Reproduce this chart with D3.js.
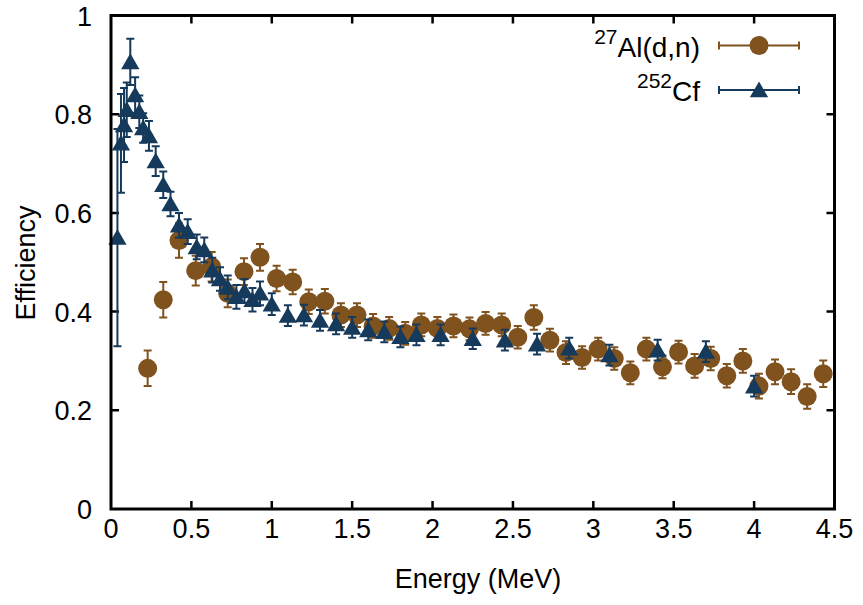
<!DOCTYPE html>
<html>
<head>
<meta charset="utf-8">
<script src="https://d3js.org/d3.v7.min.js"></script>
<style>
  body { margin: 0; background: #fff; }
  text { font-family: "Liberation Sans", Arial, sans-serif; fill: #000; }
</style>
</head>
<body>
<div id="chart"></div>
<script>
// 27Al(d,n) series
var alEnergy = [0.228, 0.325, 0.423, 0.527, 0.626, 0.726, 0.827, 0.927, 1.03, 1.13, 1.23, 1.33, 1.43, 1.53, 1.63, 1.73, 1.83, 1.93, 2.03, 2.13, 2.23, 2.33, 2.43, 2.53, 2.63, 2.73, 2.83, 2.93, 3.03, 3.13, 3.23, 3.33, 3.43, 3.53, 3.63, 3.73, 3.83, 3.93, 4.03, 4.13, 4.23, 4.33, 4.43]
var alEff = [0.285, 0.424, 0.544, 0.483, 0.491, 0.437, 0.481, 0.51, 0.467, 0.46, 0.42, 0.421, 0.393, 0.393, 0.371, 0.366, 0.356, 0.373, 0.366, 0.371, 0.365, 0.376, 0.373, 0.348, 0.388, 0.342, 0.317, 0.307, 0.324, 0.305, 0.276, 0.324, 0.288, 0.318, 0.29, 0.305, 0.27, 0.3, 0.249, 0.278, 0.258, 0.228, 0.274]
var alErr = [0.036, 0.036, 0.035, 0.03, 0.03, 0.028, 0.027, 0.027, 0.026, 0.025, 0.025, 0.025, 0.024, 0.024, 0.024, 0.023, 0.023, 0.023, 0.023, 0.023, 0.023, 0.023, 0.023, 0.023, 0.025, 0.023, 0.023, 0.023, 0.023, 0.023, 0.023, 0.023, 0.023, 0.023, 0.024, 0.024, 0.024, 0.024, 0.025, 0.025, 0.025, 0.025, 0.027]

// 252Cf series
var cfEnergy = [0.04, 0.062, 0.081, 0.098, 0.12, 0.15, 0.176, 0.2, 0.236, 0.278, 0.325, 0.37, 0.423, 0.477, 0.533, 0.58, 0.63, 0.678, 0.726, 0.78, 0.83, 0.88, 0.927, 1.0, 1.1, 1.2, 1.3, 1.4, 1.5, 1.6, 1.7, 1.8, 1.9, 2.05, 2.25, 2.45, 2.65, 2.85, 3.1, 3.4, 3.7, 4.0]
var cfEff = [0.55, 0.741, 0.778, 0.809, 0.906, 0.839, 0.805, 0.772, 0.756, 0.705, 0.657, 0.618, 0.575, 0.562, 0.531, 0.525, 0.484, 0.466, 0.449, 0.43, 0.442, 0.424, 0.437, 0.415, 0.392, 0.393, 0.382, 0.375, 0.368, 0.363, 0.359, 0.349, 0.353, 0.353, 0.345, 0.342, 0.334, 0.326, 0.312, 0.322, 0.319, 0.249]
var cfErr = [0.22, 0.1, 0.075, 0.055, 0.047, 0.036, 0.033, 0.03, 0.03, 0.03, 0.027, 0.025, 0.025, 0.025, 0.025, 0.025, 0.025, 0.024, 0.024, 0.024, 0.024, 0.024, 0.024, 0.022, 0.021, 0.021, 0.021, 0.021, 0.021, 0.021, 0.021, 0.021, 0.021, 0.021, 0.021, 0.021, 0.021, 0.021, 0.021, 0.021, 0.021, 0.021]

var xTicks = [0, 0.5, 1, 1.5, 2, 2.5, 3, 3.5, 4, 4.5]
var yTicks = [0, 0.2, 0.4, 0.6, 0.8, 1]

var width = 863, height = 605
var pLeft = 111, pRight = 834.5, pTop = 15.5, pBottom = 509

var brown = "#7f521e", blue = "#163a5c"

var svg = d3.select("#chart").append("svg")
    .attr("width", width)
    .attr("height", height)

var x = d3.scaleLinear().domain([0, 4.5]).range([pLeft, pRight])
var y = d3.scaleLinear().domain([0, 1]).range([pBottom, pTop])

// mirrored inward ticks
var g = svg.append("g")
g.selectAll(".xt").data(xTicks.slice(1, -1)).enter().append("path")
    .attr("d", function(d){ return "M" + x(d) + "," + pBottom + "v-8M" + x(d) + "," + pTop + "v8" })
    .attr("stroke", "#000").attr("stroke-width", 2.5)
g.selectAll(".yt").data(yTicks.slice(1, -1)).enter().append("path")
    .attr("d", function(d){ return "M" + pLeft + "," + y(d) + "h8M" + pRight + "," + y(d) + "h-8" })
    .attr("stroke", "#000").attr("stroke-width", 2.5)

g.selectAll(".xl").data(xTicks).enter().append("text")
    .attr("x", function(d){ return x(d) })
    .attr("y", pBottom + 29)
    .attr("text-anchor", "middle")
    .style("font-size", "27px")
    .text(function(d){ return d })
g.selectAll(".yl").data(yTicks).enter().append("text")
    .attr("x", 92)
    .attr("y", function(d){ return y(d) + 10 })
    .attr("text-anchor", "end")
    .style("font-size", "27px")
    .text(function(d){ return d })

svg.append("text")
    .attr("x", 478)
    .attr("y", 588)
    .attr("text-anchor", "middle")
    .style("font-size", "27px")
    .text("Energy (MeV)")
svg.append("text")
    .attr("transform", "translate(35,263) rotate(-90)")
    .attr("text-anchor", "middle")
    .style("font-size", "27px")
    .text("Efficiency")

function errorBars(xs, ys, es, color) {
    var data = d3.range(xs.length)
    svg.append("g").selectAll("path").data(data).enter().append("path")
        .attr("d", function(i){
            var px = x(xs[i]), y0 = y(ys[i] - es[i]), y1 = y(ys[i] + es[i])
            return "M" + px + "," + y0 + "V" + y1 +
                "M" + (px - 4) + "," + y0 + "h8M" + (px - 4) + "," + y1 + "h8"
        })
        .attr("fill", "none")
        .attr("stroke", color)
        .attr("stroke-width", 2)
}

var circle = d3.symbol().type(d3.symbolCircle).size(Math.PI * 9.5 * 9.5)
var tri = d3.symbol().type(d3.symbolTriangle).size(145)

// Al points
errorBars(alEnergy, alEff, alErr, brown)
svg.append("g").selectAll("path").data(d3.range(alEnergy.length)).enter().append("path")
    .attr("transform", function(i){ return "translate(" + x(alEnergy[i]) + "," + y(alEff[i]) + ")" })
    .attr("d", circle)
    .attr("fill", brown)

// Cf points
errorBars(cfEnergy, cfEff, cfErr, blue)
svg.append("g").selectAll("path").data(d3.range(cfEnergy.length)).enter().append("path")
    .attr("transform", function(i){ return "translate(" + x(cfEnergy[i]) + "," + (y(cfEff[i]) + 2) + ")" })
    .attr("d", tri)
    .attr("fill", blue)

// frame
svg.append("rect")
    .attr("x", pLeft).attr("y", pTop)
    .attr("width", pRight - pLeft).attr("height", pBottom - pTop)
    .attr("fill", "none").attr("stroke", "#000").attr("stroke-width", 3)

// legend
var legend = [
    {sup: "27", name: "Al(d,n)", color: brown, sym: circle, y: 45.5},
    {sup: "252", name: "Cf", color: blue, sym: tri, y: 90}
]
var lg = svg.append("g").selectAll("g").data(legend).enter().append("g")
lg.append("text")
    .attr("x", 700)
    .attr("y", function(d){ return d.y + 11 })
    .attr("text-anchor", "end")
    .style("font-size", "28px")
    .each(function(d){
        var t = d3.select(this)
        t.append("tspan").attr("dy", -13).style("font-size", "21px").text(d.sup)
        t.append("tspan").attr("dy", 13).text(d.name)
    })
lg.append("path")
    .attr("d", function(d){ return "M719," + d.y + "H799M719," + (d.y - 4) + "v8M799," + (d.y - 4) + "v8" })
    .attr("stroke", function(d){ return d.color })
    .attr("stroke-width", 2)
    .attr("fill", "none")
lg.append("path")
    .attr("transform", function(d){ return "translate(759," + (d.y + (d.sym === tri ? 2 : 0)) + ")" })
    .attr("d", function(d){ return d.sym() })
    .attr("fill", function(d){ return d.color })
</script>
</body>
</html>
